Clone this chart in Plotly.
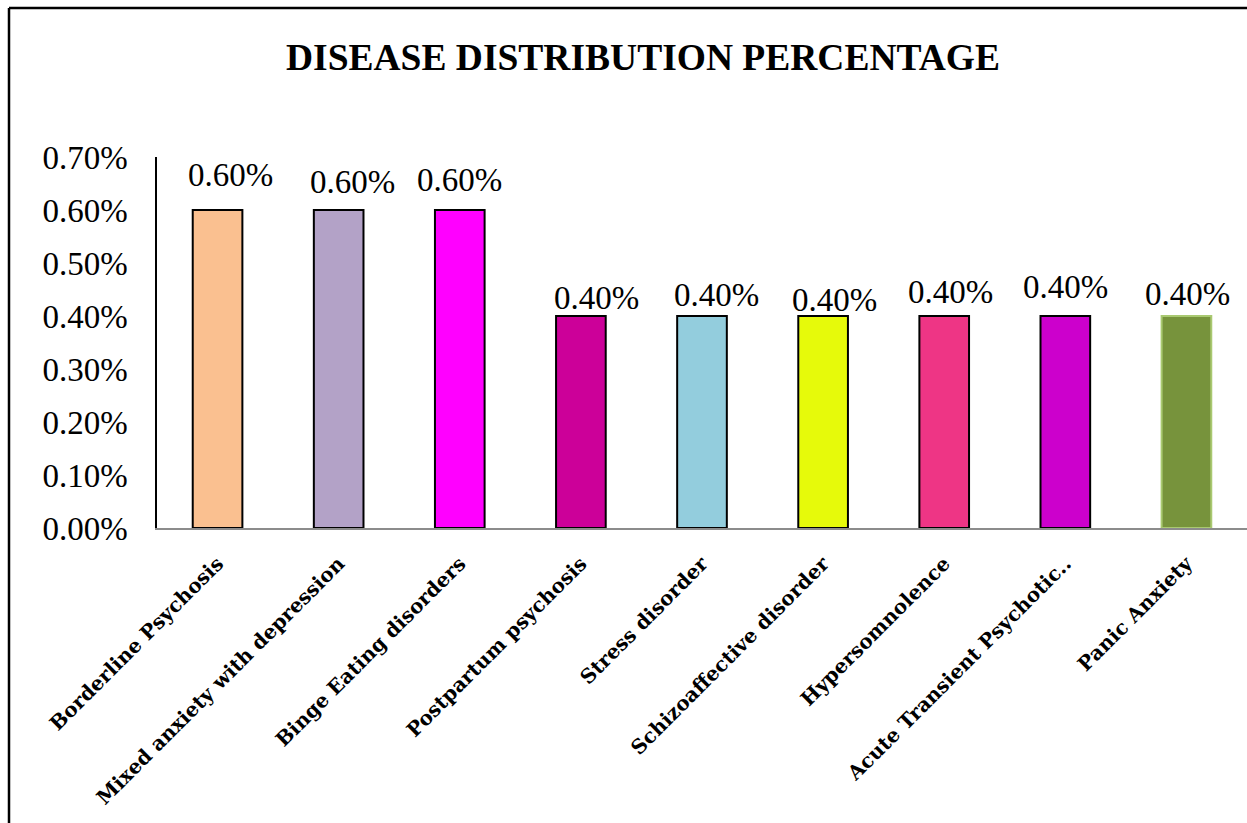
import plotly.graph_objects as go

categories = ["Borderline Psychosis", "Mixed anxiety with depression", "Binge Eating disorders",
              "Postpartum psychosis", "Stress disorder", "Schizoaffective disorder",
              "Hypersomnolence", "Acute Transient Psychotic..", "Panic Anxiety"]
values = [0.006, 0.006, 0.006, 0.004, 0.004, 0.004, 0.004, 0.004, 0.004]
fill_colors = ["#FAC090", "#B3A2C7", "#FF00FF", "#CC0099", "#93CDDD",
               "#E6FA0A", "#EE3585", "#CC00CC", "#77933C"]
line_colors = ["#000000"] * 8 + ["#A9C971"]
y_ticks = [0, 0.001, 0.002, 0.003, 0.004, 0.005, 0.006, 0.007]
# manual label nudges (pixels), as placed in the original chart
label_dx = [13, 14, 0, 16, 14, 11, 6, 0, 1]
label_dy = [15, 8, 10, -2, 1, -4, 4, 9, 2]

W, H = 1247, 823
L, R, T, B = 157, 0, 157, 295
pw, ph = W - L - R, H - T - B
SERIF = "Liberation Serif"

fig = go.Figure(go.Bar(
    x=categories, y=values,
    marker=dict(color=fill_colors, line=dict(color=line_colors, width=2)),
    width=0.41,
    cliponaxis=False,
))

for c, v, dx, dy in zip(categories, values, label_dx, label_dy):
    fig.add_annotation(x=c, y=v, text=f"{v*100:.2f}%", showarrow=False,
                       xanchor="center", yanchor="bottom", xshift=dx, yshift=dy,
                       font=dict(family=SERIF, size=33, color="black"))

bx = (9 - L) / pw
by = (H - B - 8) / ph
fig.add_shape(type="line", xref="paper", yref="paper", x0=bx, x1=1.2, y0=by, y1=by,
              line=dict(color="black", width=2.5))
fig.add_shape(type="line", xref="paper", yref="paper", x0=bx, x1=bx, y0=by, y1=-1.5,
              line=dict(color="black", width=2.5))

fig.update_layout(
    width=W, height=H,
    margin=dict(l=L, r=R, t=T, b=B),
    paper_bgcolor="white", plot_bgcolor="white",
    showlegend=False,
    title=dict(text="<b>DISEASE DISTRIBUTION PERCENTAGE</b>", x=643 / W, xanchor="center",
               y=1 - 57 / H, yanchor="middle",
               font=dict(family="Liberation Serif", size=37.5, color="black")),
    xaxis=dict(tickangle=-45, showline=True, linecolor="#8C8C8C", linewidth=2,
               ticks="", tickfont=dict(family="DejaVu Serif", size=20, color="black"),
               showgrid=False, ticklabelstandoff=14),
    yaxis=dict(range=[0, 0.007], tickvals=y_ticks, tickformat=".2%",
               showline=True, linecolor="black", linewidth=1.5, ticks="",
               showgrid=False, zeroline=False, ticklabelstandoff=21,
               tickfont=dict(family=SERIF, size=33, color="black")),
)
fig.update_xaxes(tickprefix="<b>", ticksuffix="</b>")

fig.write_html("out.html")
